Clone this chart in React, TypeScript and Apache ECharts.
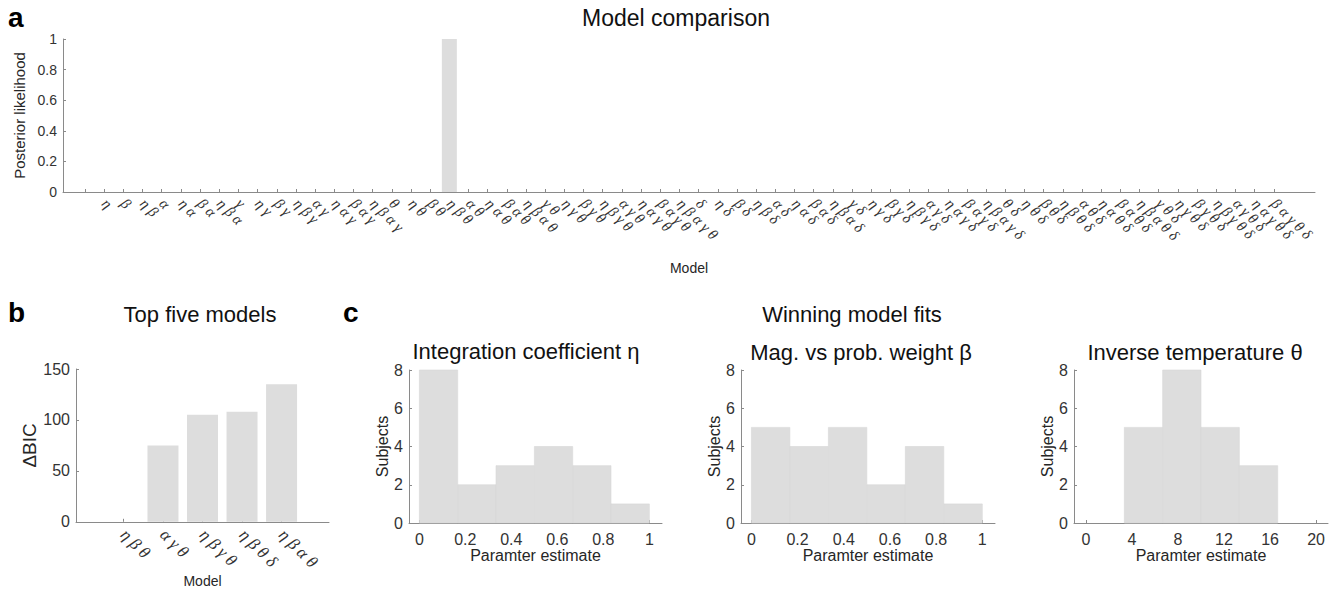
import React, { useEffect, useRef } from "react";
import * as echarts from "echarts";

// ---------- DATA ----------
// Panel a: 64 models (first has no label), posterior likelihood per model
const MODEL_LABELS = [
  "", "η", "β", "ηβ", "α", "ηα", "βα", "ηβα",
  "γ", "ηγ", "βγ", "ηβγ", "αγ", "ηαγ", "βαγ", "ηβαγ",
  "θ", "ηθ", "βθ", "ηβθ", "αθ", "ηαθ", "βαθ", "ηβαθ",
  "γθ", "ηγθ", "βγθ", "ηβγθ", "αγθ", "ηαγθ", "βαγθ", "ηβαγθ",
  "δ", "ηδ", "βδ", "ηβδ", "αδ", "ηαδ", "βαδ", "ηβαδ",
  "γδ", "ηγδ", "βγδ", "ηβγδ", "αγδ", "ηαγδ", "βαγδ", "ηβαγδ",
  "θδ", "ηθδ", "βθδ", "ηβθδ", "αθδ", "ηαθδ", "βαθδ", "ηβαθδ",
  "γθδ", "ηγθδ", "βγθδ", "ηβγθδ", "αγθδ", "ηαγθδ", "βαγθδ", "ηβαγθδ",
];
const POSTERIOR = [
  0, 0, 0, 0, 0, 0, 0, 0,
  0, 0, 0, 0, 0, 0, 0, 0,
  0, 0, 0, 1, 0, 0, 0, 0,
  0, 0, 0, 0, 0, 0, 0, 0,
  0, 0, 0, 0, 0, 0, 0, 0,
  0, 0, 0, 0, 0, 0, 0, 0,
  0, 0, 0, 0, 0, 0, 0, 0,
  0, 0, 0, 0, 0, 0, 0, 0,
];
const POSTERIOR_TICKS = [0, 0.2, 0.4, 0.6, 0.8, 1];

// Panel b: top five models
const TOP_MODELS = ["ηβθ", "αγθ", "ηβγθ", "ηβθδ", "ηβαθ"];
const DELTA_BIC = [0, 75, 105, 108, 135];
const BIC_TICKS = [0, 50, 100, 150];

// Panel c: histograms of winning model parameter estimates
const UNIT_EDGES = [0, 0.1667, 0.3333, 0.5, 0.6667, 0.8333, 1];
const ETA_COUNTS = [8, 2, 3, 4, 3, 1];
const BETA_COUNTS = [5, 4, 5, 2, 4, 1];
const THETA_EDGES = [3.333, 6.667, 10, 13.333, 16.667];
const THETA_COUNTS = [5, 8, 5, 3];
const UNIT_TICKS = [0, 0.2, 0.4, 0.6, 0.8, 1];
const THETA_TICKS = [0, 4, 8, 12, 16, 20];
const SUBJECT_TICKS = [0, 2, 4, 6, 8];

// ---------- STYLE ----------
const SANS = "'Helvetica Neue', Helvetica, 'Liberation Sans', Arial, sans-serif";
const SERIF = "'Liberation Serif', 'DejaVu Serif', serif";
const AXIS_COLOR = "#8a8a8a";
const TEXT_COLOR = "#262626";
const BAR_COLOR = "#dddddd";

const spaced = (s: string) => s.split("").join(" ");

function histData(edges: number[], counts: number[]) {
  return counts.map((c, i) => [edges[i], edges[i + 1], c]);
}

const histRender = (params: any, api: any) => {
  const x0 = api.value(0);
  const x1 = api.value(1);
  const y = api.value(2);
  const p0 = api.coord([x0, y]);
  const p1 = api.coord([x1, 0]);
  return {
    type: "rect",
    shape: { x: p0[0], y: p0[1], width: p1[0] - p0[0], height: p1[1] - p0[1] },
    style: { fill: BAR_COLOR, stroke: "#d6d6d6", lineWidth: 0.6 },
  };
};

function xValueAxis(gridIndex: number, min: number, max: number, ticks: number[], extra: any = {}) {
  return {
    type: "value",
    gridIndex,
    min,
    max,
    splitLine: { show: false },
    axisLine: { show: true, onZero: false, lineStyle: { color: AXIS_COLOR, width: 1 } },
    axisTick: { show: true, inside: true, length: 3, customValues: ticks, lineStyle: { color: AXIS_COLOR } },
    axisLabel: { customValues: ticks, color: "#333", fontFamily: SANS, fontSize: 16, margin: 8 },
    ...extra,
  };
}

function yValueAxis(gridIndex: number, max: number, interval: number, extra: any = {}) {
  return {
    type: "value",
    gridIndex,
    min: 0,
    max,
    interval,
    splitLine: { show: false },
    axisLine: { show: true, onZero: false, lineStyle: { color: AXIS_COLOR, width: 1 } },
    axisTick: { show: true, inside: true, length: 3, lineStyle: { color: AXIS_COLOR } },
    axisLabel: { color: "#333", fontFamily: SANS, fontSize: 16, margin: 6 },
    nameLocation: "middle",
    nameRotate: 90,
    nameTextStyle: { color: TEXT_COLOR, fontFamily: SANS, fontSize: 16 },
    ...extra,
  };
}

function titleText(text: string, x: number, y: number, size: number, weight: any = "normal") {
  return {
    type: "text",
    x,
    y,
    style: {
      text,
      fill: "#111",
      font: `${weight} ${size}px ${SANS}`,
      textAlign: "center",
      textVerticalAlign: "middle",
    },
  };
}

function letterText(text: string, x: number, y: number) {
  return {
    type: "text",
    x,
    y,
    style: {
      text,
      fill: "#000",
      font: `bold 28px ${SANS}`,
      textAlign: "left",
      textVerticalAlign: "middle",
    },
  };
}

export default function App() {
  const ref = useRef<HTMLDivElement>(null);

  useEffect(() => {
    if (!ref.current) return;
    const chart = echarts.init(ref.current, undefined, { renderer: "svg" });

    const option: any = {
      animation: false,
      backgroundColor: "#ffffff",
      grid: [
        { left: 63, top: 39, width: 1252, height: 153 },
        { left: 76, top: 369, width: 253, height: 154 },
        { left: 409, top: 370, width: 253, height: 153 },
        { left: 741, top: 370, width: 254, height: 153 },
        { left: 1074, top: 370, width: 254, height: 153 },
      ],
      xAxis: [
        xValueAxis(0, -1.15, 64.15, MODEL_LABELS.map((_, i) => i), {
          axisLabel: {
            customValues: MODEL_LABELS.map((_, i) => i),
            formatter: (v: number) => spaced(MODEL_LABELS[Math.round(v)] || ""),
            rotate: -45,
            color: "#333",
            fontFamily: SERIF,
            fontStyle: "italic",
            fontSize: 15,
            margin: 9,
          },
          name: "Model",
          nameLocation: "middle",
          nameGap: 69,
          nameTextStyle: { color: TEXT_COLOR, fontFamily: SANS, fontSize: 14 },
        }),
        xValueAxis(1, -0.2, 6.2, [1, 2, 3, 4, 5], {
          axisLabel: {
            customValues: [1, 2, 3, 4, 5],
            formatter: (v: number) => spaced(TOP_MODELS[Math.round(v) - 1] || ""),
            rotate: -45,
            color: "#333",
            fontFamily: SERIF,
            fontStyle: "italic",
            fontSize: 17,
            margin: 10,
          },
          name: "Model",
          nameLocation: "middle",
          nameGap: 48,
          nameTextStyle: { color: TEXT_COLOR, fontFamily: SANS, fontSize: 14 },
        }),
        xValueAxis(2, -0.045, 1.055, UNIT_TICKS, {
          name: "Paramter estimate",
          nameLocation: "middle",
          nameGap: 24,
          nameTextStyle: { color: TEXT_COLOR, fontFamily: SANS, fontSize: 16 },
        }),
        xValueAxis(3, -0.045, 1.055, UNIT_TICKS, {
          name: "Paramter estimate",
          nameLocation: "middle",
          nameGap: 24,
          nameTextStyle: { color: TEXT_COLOR, fontFamily: SANS, fontSize: 16 },
        }),
        xValueAxis(4, -1.04, 21.04, THETA_TICKS, {
          name: "Paramter estimate",
          nameLocation: "middle",
          nameGap: 24,
          nameTextStyle: { color: TEXT_COLOR, fontFamily: SANS, fontSize: 16 },
        }),
      ],
      yAxis: [
        yValueAxis(0, 1, 0.2, {
          axisLabel: {
            color: "#333",
            fontFamily: SANS,
            fontSize: 14,
            margin: 6,
            customValues: POSTERIOR_TICKS,
          },
          name: "Posterior likelihood",
          nameGap: 29,
          nameTextStyle: { color: TEXT_COLOR, fontFamily: SANS, fontSize: 15 },
        }),
        yValueAxis(1, 150, 50, {
          axisLabel: { color: "#333", fontFamily: SANS, fontSize: 16, margin: 6, customValues: BIC_TICKS },
          name: "ΔBIC",
          nameGap: 36,
          nameTextStyle: { color: TEXT_COLOR, fontFamily: SANS, fontSize: 19 },
        }),
        yValueAxis(2, 8, 2, {
          axisLabel: { color: "#333", fontFamily: SANS, fontSize: 16, margin: 6, customValues: SUBJECT_TICKS },
          name: "Subjects",
          nameGap: 18,
        }),
        yValueAxis(3, 8, 2, {
          axisLabel: { color: "#333", fontFamily: SANS, fontSize: 16, margin: 6, customValues: SUBJECT_TICKS },
          name: "Subjects",
          nameGap: 16,
        }),
        yValueAxis(4, 8, 2, {
          axisLabel: { color: "#333", fontFamily: SANS, fontSize: 16, margin: 6, customValues: SUBJECT_TICKS },
          name: "Subjects",
          nameGap: 16,
        }),
      ],
      series: [
        {
          type: "bar",
          xAxisIndex: 0,
          yAxisIndex: 0,
          barWidth: 15,
          itemStyle: { color: BAR_COLOR },
          data: POSTERIOR.map((v, i) => [i, v]),
        },
        {
          type: "bar",
          xAxisIndex: 1,
          yAxisIndex: 1,
          barWidth: 31,
          itemStyle: { color: BAR_COLOR },
          data: DELTA_BIC.map((v, i) => [i + 1, v]),
        },
        {
          type: "custom",
          xAxisIndex: 2,
          yAxisIndex: 2,
          renderItem: histRender,
          encode: { x: [0, 1], y: 2 },
          data: histData(UNIT_EDGES, ETA_COUNTS),
        },
        {
          type: "custom",
          xAxisIndex: 3,
          yAxisIndex: 3,
          renderItem: histRender,
          encode: { x: [0, 1], y: 2 },
          data: histData(UNIT_EDGES, BETA_COUNTS),
        },
        {
          type: "custom",
          xAxisIndex: 4,
          yAxisIndex: 4,
          renderItem: histRender,
          encode: { x: [0, 1], y: 2 },
          data: histData(THETA_EDGES, THETA_COUNTS),
        },
      ],
      graphic: [
        letterText("a", 8, 17),
        letterText("b", 8, 312),
        letterText("c", 343, 312),
        titleText("Model comparison", 676, 18, 23),
        titleText("Top five models", 200, 314, 22),
        titleText("Winning model fits", 852, 314, 22),
        titleText("Integration coefficient η", 526, 351, 22),
        titleText("Mag. vs prob. weight β", 861, 352, 22),
        titleText("Inverse temperature θ", 1195, 352, 22),
      ],
    };

    chart.setOption(option);
    return () => chart.dispose();
  }, []);

  return (
    <div
      ref={ref}
      style={{ position: "fixed", left: 0, top: 0, width: 1342, height: 589, background: "#fff" }}
    />
  );
}
